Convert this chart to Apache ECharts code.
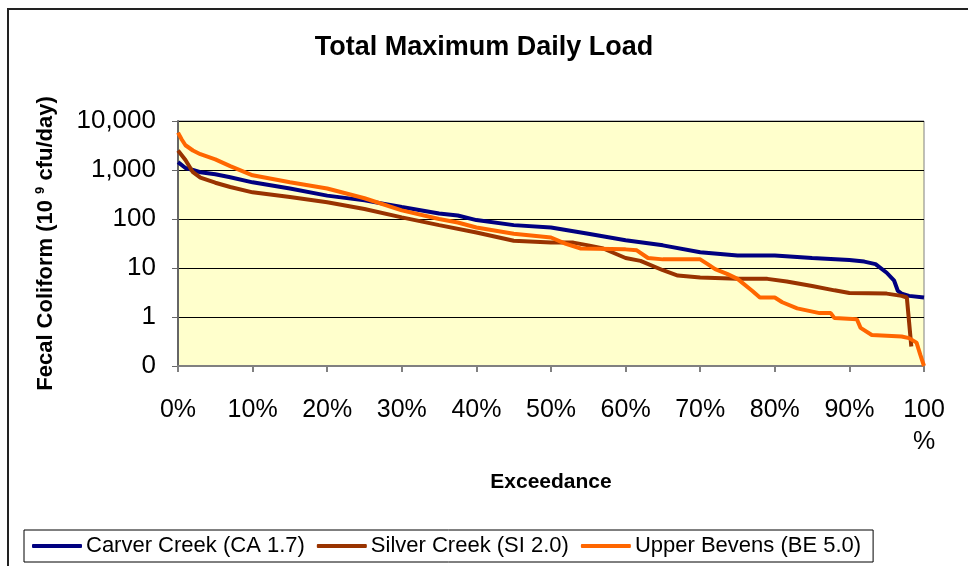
<!DOCTYPE html>
<html>
<head>
<meta charset="utf-8">
<script src="https://cdn.jsdelivr.net/npm/echarts@6/dist/echarts.min.js"></script>
<style>
    html, body { margin: 0; padding: 0; background: #fff; }
    #main { width: 968px; height: 566px; }
</style>
</head>
<body>
<div id="main"></div>
<script>
// exceedance (%) and load (10^9 cfu/day)
var carverPct  = [0, 1, 2, 3, 5, 7, 10, 15, 20, 25, 30, 35, 37.5, 40, 45, 50, 55, 60, 65, 70, 75, 80, 85, 90, 92, 93.5, 95, 96, 96.5, 97, 98, 100];
var carverLoad = [1450, 1100, 1000, 900, 820, 710, 560, 420, 300, 240, 175, 130, 118, 95, 75, 67, 50, 37, 29, 21, 18, 18, 16, 14.5, 13.5, 12, 8, 5.5, 3.4, 3, 2.7, 2.5];

var silverPct  = [0, 0.5, 1, 2, 3, 5, 7, 10, 15, 20, 25, 30, 35, 40, 45, 50, 53, 55, 57, 60, 62, 65, 67, 70, 75, 79, 81.6, 85, 88, 90, 95, 97, 97.7, 98.3];
var silverLoad = [2500, 2000, 1600, 900, 700, 550, 450, 350, 280, 220, 160, 108, 75, 53, 36, 33, 33, 29, 25, 16, 14, 9, 7, 6.4, 6, 6, 5.3, 4.3, 3.5, 3.1, 3, 2.7, 2.5, 0.25];

var bevensPct  = [0, 0.5, 1, 2, 3, 5, 7, 10, 15, 20, 25, 30, 35, 37.5, 40, 45, 50, 52, 54, 60, 61.5, 63, 65, 70, 71, 72, 73.6, 75, 77, 78, 80, 81, 83, 86, 87.5, 88, 91, 91.5, 93, 97, 98, 99, 99.5, 100];
var bevensLoad = [5800, 4200, 3200, 2500, 2100, 1650, 1200, 780, 560, 420, 265, 150, 100, 85, 67, 50, 42, 31, 25, 24, 23, 16, 15, 15, 12, 9.5, 7.6, 6, 3.4, 2.5, 2.5, 2, 1.5, 1.2, 1.2, 0.95, 0.9, 0.6, 0.43, 0.4, 0.37, 0.3, 0.17, 0.1];

var seriesNames = ['Carver Creek (CA 1.7)', 'Silver Creek (SI 2.0)', 'Upper Bevens (BE 5.0)'];
var seriesColors = ['#000080', '#993300', '#FF6600'];

function pairs(xs, ys) {
    var out = [];
    for (var i = 0; i < xs.length; i++) out.push([xs[i], ys[i]]);
    return out;
}

function numberWithCommas(n) {
    return String(n).replace(/\B(?=(\d{3})+(?!\d))/g, ',');
}

var myChart = echarts.init(document.getElementById('main'));
var font = 'Liberation Sans, Arial, sans-serif';

var option = {
    animation: false,
    textStyle: { fontFamily: font, color: '#000' },
    graphic: [{
        type: 'rect',
        shape: { x: 8, y: 9, width: 1000, height: 600 },
        style: { fill: 'none', stroke: '#222', lineWidth: 2 },
        silent: true
    }],
    title: {
        text: 'Total Maximum Daily Load',
        left: 'center',
        top: 29,
        textStyle: { fontSize: 27, fontWeight: 'bold', fontFamily: font, color: '#000' }
    },
    legend: {
        data: seriesNames,
        left: 24,
        top: 530,
        itemWidth: 50,
        itemHeight: 4,
        itemGap: 12,
        padding: [5, 12, 5, 8],
        borderColor: '#000',
        borderWidth: 1,
        icon: 'roundRect',
        textStyle: { fontSize: 22, fontFamily: font, color: '#000', padding: [0, 0, 0, -1] }
    },
    grid: {
        left: 178,
        right: 44,
        top: 121,
        bottom: 200,
        show: true,
        backgroundColor: '#FFFFCC',
        borderColor: '#808080',
        borderWidth: 1
    },
    xAxis: {
        type: 'value',
        min: 0,
        max: 100,
        interval: 10,
        name: 'Exceedance',
        nameLocation: 'middle',
        nameGap: 106,
        nameTextStyle: { fontSize: 21, fontWeight: 'bold', color: '#000' },
        axisLine: { lineStyle: { color: '#808080', width: 2 } },
        axisTick: { show: true, length: 6, lineStyle: { color: '#808080', width: 2 } },
        axisLabel: {
            fontSize: 25,
            color: '#000',
            margin: 28,
            lineHeight: 32,
            formatter: function (v) { return v === 100 ? '100\n%' : v + '%'; }
        },
        splitLine: { show: false }
    },
    yAxis: {
        type: 'log',
        logBase: 10,
        min: 0.1,
        max: 10000,
        name: '{t|Fecal Coliform (10 }{s|9}{t| cfu/day)}',
        nameLocation: 'middle',
        nameGap: 121,
        nameRotate: 90,
        nameTextStyle: {
            rich: {
                t: { fontSize: 22, fontWeight: 'bold', color: '#000', fontFamily: font },
                s: { fontSize: 13, fontWeight: 'bold', color: '#000', fontFamily: font, verticalAlign: 'top', padding: [0, 0, 10, 0] }
            }
        },
        axisLine: { show: true, lineStyle: { color: '#666', width: 2 } },
        axisTick: { show: true, length: 6, lineStyle: { color: '#666', width: 1 } },
        axisLabel: {
            fontSize: 26,
            color: '#000',
            margin: 22,
            formatter: function (v) {
                if (v < 1) return '0';
                return numberWithCommas(Math.round(v));
            }
        },
        splitLine: { show: true, lineStyle: { color: '#000', width: 1 } }
    },
    series: [
        {
            name: seriesNames[0],
            type: 'line',
            data: pairs(carverPct, carverLoad),
            showSymbol: false,
            lineStyle: { width: 4, color: seriesColors[0] },
            itemStyle: { color: seriesColors[0] },
            z: 3
        },
        {
            name: seriesNames[1],
            type: 'line',
            data: pairs(silverPct, silverLoad),
            showSymbol: false,
            lineStyle: { width: 4, color: seriesColors[1] },
            itemStyle: { color: seriesColors[1] },
            z: 4
        },
        {
            name: seriesNames[2],
            type: 'line',
            data: pairs(bevensPct, bevensLoad),
            showSymbol: false,
            lineStyle: { width: 4, color: seriesColors[2] },
            itemStyle: { color: seriesColors[2] },
            z: 5
        }
    ]
};

myChart.setOption(option);
</script>
</body>
</html>
